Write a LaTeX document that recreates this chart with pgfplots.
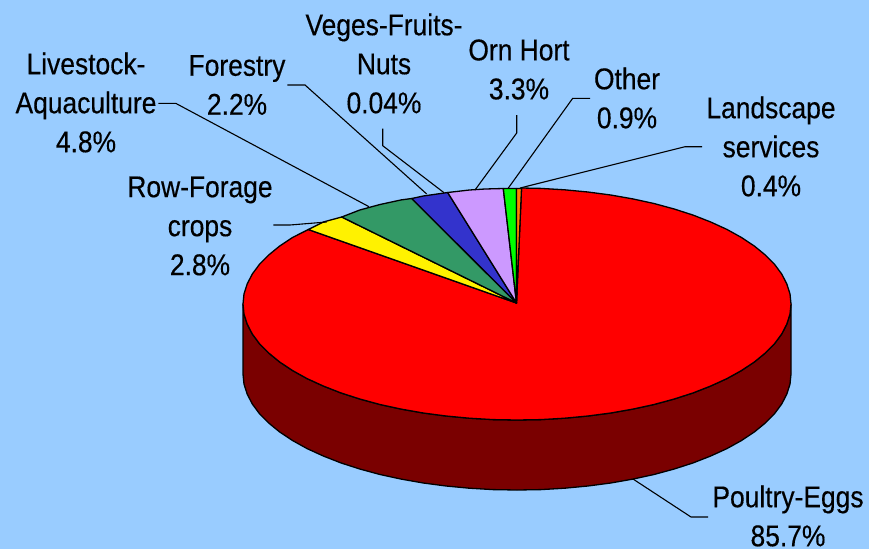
\documentclass[border=0pt]{standalone}
\usepackage{fontspec}
\setmainfont[FakeStretch=0.88,FakeBold=0.35]{Liberation Sans}
\usepackage{pgfplots}
\pgfplotsset{compat=1.18}
\definecolor{bgc}{HTML}{99CCFF}
\definecolor{maroon}{HTML}{7A0000}
\definecolor{sgreen}{HTML}{339966}
\definecolor{sblue}{HTML}{3333CC}
\definecolor{lilac}{HTML}{CC99FF}
\tikzset{
  slice/.style={draw=black, line width=1.3pt, line join=round},
  lead/.style={draw=black, line width=1.1pt, line join=miter},
  lab/.style={font=\fontsize{30}{39}\selectfont, align=center, text=black, inner sep=0pt, anchor=center},
}
\begin{document}
\begin{tikzpicture}
\begin{axis}[
  scale only axis, width=869pt, height=549pt,
  xmin=0, xmax=869, ymin=0, ymax=549, y dir=reverse,
  xtick=\empty, ytick=\empty, axis line style={draw=none},
  axis background/.style={fill=bgc},
  clip=true,
]
% side wall
\addplot[slice, fill=maroon, no marks] coordinates {
(791,304)(790,314.1)(786.8,324.1)(781.7,334)(774.5,343.7)(765.3,353)(754.3,362)(741.5,370.5)(726.9,378.6)(710.7,386)(693.1,392.9)(674.2,399)(654,404.5)(632.8,409.1)(610.7,413)(587.9,416)(564.6,418.2)(540.9,419.6)(517,420)(493.1,419.6)(469.4,418.2)(446.1,416)(423.3,413)(401.2,409.1)(380,404.5)(359.8,399)(340.9,392.9)(323.3,386)(307.1,378.6)(292.5,370.5)(279.7,362)(268.7,353)(259.5,343.7)(252.3,334)(247.2,324.1)(244,314.1)(243,304)
(243,374)(244,384.1)(247.2,394.1)(252.3,404)(259.5,413.7)(268.7,423)(279.7,432)(292.5,440.5)(307.1,448.6)(323.3,456)(340.9,462.9)(359.8,469)(380,474.5)(401.2,479.1)(423.3,483)(446.1,486)(469.4,488.2)(493.1,489.6)(517,490)(540.9,489.6)(564.6,488.2)(587.9,486)(610.7,483)(632.8,479.1)(654,474.5)(674.2,469)(693.1,462.9)(710.7,456)(726.9,448.6)(741.5,440.5)(754.3,432)(765.3,423)(774.5,413.7)(781.7,404)(786.8,394.1)(790,384.1)(791,374)
} -- cycle;
% Poultry-Eggs
\addplot[slice, fill=red, no marks] coordinates {
(516.5,303)(521.5,188)(540.9,188.4)(564.6,189.8)(587.9,192)(610.7,195)(632.8,198.9)(654,203.5)(674.2,209)(693.1,215.1)(710.7,222)(726.9,229.4)(741.5,237.5)(754.3,246)(765.3,255)(774.5,264.3)(781.7,274)(786.8,283.9)(790,293.9)(791,304)(790,314.1)(786.8,324.1)(781.7,334)(774.5,343.7)(765.3,353)(754.3,362)(741.5,370.5)(726.9,378.6)(710.7,386)(693.1,392.9)(674.2,399)(654,404.5)(632.8,409.1)(610.7,413)(587.9,416)(564.6,418.2)(540.9,419.6)(517,420)(493.1,419.6)(469.4,418.2)(446.1,416)(423.3,413)(401.2,409.1)(380,404.5)(359.8,399)(340.9,392.9)(323.3,386)(307.1,378.6)(292.5,370.5)(279.7,362)(268.7,353)(259.5,343.7)(252.3,334)(247.2,324.1)(244,314.1)(243,304)(244,293.9)(247.2,283.9)(252.3,274)(259.5,264.3)(268.7,255)(279.7,246)(292.5,237.5)(308.3,229.5)
} -- cycle;
% Row-Forage crops
\addplot[slice, fill=yellow, no marks] coordinates {(516.5,303)(308.3,229.5)(323.3,222)(341.7,217)} -- cycle;
% Livestock
\addplot[slice, fill=sgreen, no marks] coordinates {(516.5,303)(341.7,217)(359.8,210)(380,204.5)(401.2,199.9)(411.7,198.5)} -- cycle;
% Forestry
\addplot[slice, fill=sblue, no marks] coordinates {(516.5,303)(411.7,198.5)(423.3,196)(447.7,192.5)} -- cycle;
% Orn Hort
\addplot[slice, fill=lilac, no marks] coordinates {(516.5,303)(447.7,192.5)(469.4,190)(485,189)(503.3,188.5)} -- cycle;
% Other
\addplot[slice, fill=green, no marks] coordinates {(516.5,303)(503.3,188.5)(516.5,188.5)} -- cycle;
% Landscape
\addplot[slice, fill=orange, no marks] coordinates {(516.5,303)(516.5,188.5)(521.5,188.5)} -- cycle;
% leaders
\addplot[lead, no marks] coordinates {(633,479)(691,517)(708,517)};
\addplot[lead, no marks] coordinates {(520,188)(685,146.7)(702,146.7)};
\addplot[lead, no marks] coordinates {(508,188.5)(572.7,98.3)(590,98.3)};
\addplot[lead, no marks] coordinates {(475,190)(516.7,133)(516.7,115)};
\addplot[lead, no marks] coordinates {(444,192.7)(382.7,145.7)(382.7,128.7)};
\addplot[lead, no marks] coordinates {(426.7,194)(305,85)(287.3,85)};
\addplot[lead, no marks] coordinates {(369,206.7)(175.7,103.3)(158.3,103.3)};
\addplot[lead, no marks] coordinates {(326.7,222)(290,225)(273.3,225)};
% labels
\node[lab] at (axis cs:384,63.5) {Veges-Fruits-\\Nuts\\0.04\%};
\node[lab] at (axis cs:519,69.5) {Orn Hort\\3.3\%};
\node[lab] at (axis cs:627,98) {Other\\0.9\%};
\node[lab] at (axis cs:771,146.5) {Landscape\\services\\0.4\%};
\node[lab] at (axis cs:86,102.5) {Livestock-\\Aquaculture\\4.8\%};
\node[lab] at (axis cs:237,85) {Forestry\\2.2\%};
\node[lab] at (axis cs:200,226) {Row-Forage\\crops\\2.8\%};
\node[lab] at (axis cs:788,516) {Poultry-Eggs\\85.7\%};
\end{axis}
\end{tikzpicture}
\end{document}
